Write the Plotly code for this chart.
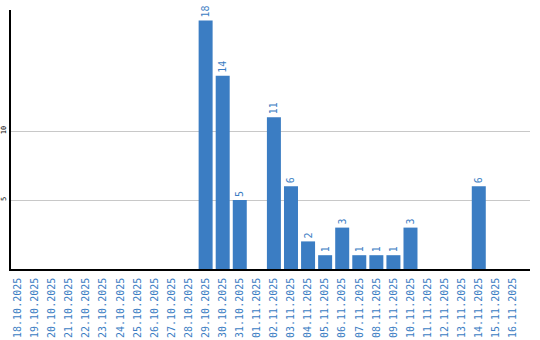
import plotly.graph_objects as go

dates = ["18.10.2025", "19.10.2025", "20.10.2025", "21.10.2025", "22.10.2025",
         "23.10.2025", "24.10.2025", "25.10.2025", "26.10.2025", "27.10.2025",
         "28.10.2025", "29.10.2025", "30.10.2025", "31.10.2025", "01.11.2025",
         "02.11.2025", "03.11.2025", "04.11.2025", "05.11.2025", "06.11.2025",
         "07.11.2025", "08.11.2025", "09.11.2025", "10.11.2025", "11.11.2025",
         "12.11.2025", "13.11.2025", "14.11.2025", "15.11.2025", "16.11.2025"]
counts = [0, 0, 0, 0, 0, 0, 0, 0, 0, 0,
          0, 18, 14, 5, 0, 11, 6, 2, 1, 3,
          1, 1, 1, 3, 0, 0, 0, 6, 0, 0]
y_ticks = [5, 10]

blue = "#3b7dc3"
labels = [str(v) if v else "" for v in counts]

fig = go.Figure(go.Bar(
    x=dates, y=counts, text=labels, textposition="outside", textangle=-90,
    outsidetextfont=dict(family="DejaVu Sans Mono", size=10, color=blue),
    marker=dict(color=blue, line=dict(width=0)), cliponaxis=False,
))
fig.update_layout(
    width=540, height=340, margin=dict(l=11, r=10, t=10, b=71),
    paper_bgcolor="white", plot_bgcolor="white", showlegend=False, bargap=0.18,
)
fig.update_xaxes(
    type="category", range=[-0.4, 30.0], tickangle=-90, automargin=False,
    tickfont=dict(family="DejaVu Sans Mono", size=10, color=blue),
    showline=True, linecolor="black", linewidth=1.5, showgrid=False,
    ticks="", ticklabelstandoff=3,
)
fig.update_yaxes(
    range=[0, 18.77], tickvals=y_ticks, tickangle=-90, automargin=False,
    tickfont=dict(family="DejaVu Sans Mono", size=7, color="black"),
    showline=True, linecolor="black", linewidth=1.5,
    showgrid=True, gridcolor="#c8c8c8", gridwidth=1, zeroline=False, ticks="",
)
fig.write_html("out.html")
